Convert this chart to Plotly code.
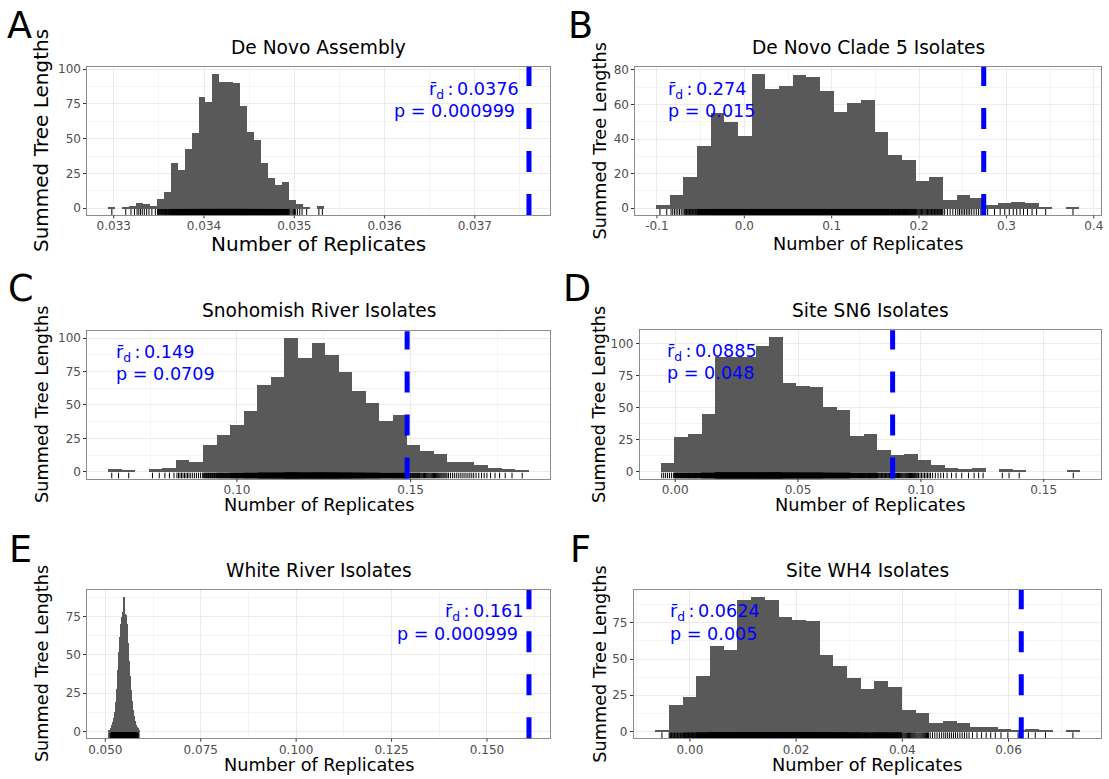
import plotly.graph_objects as go

W, H = 1109, 779

# ---- data -------------------------------------------------------------
panel_letters = ["A", "B", "C", "D", "E", "F"]
panel_titles = [
    "De Novo Assembly",
    "De Novo Clade 5 Isolates",
    "Snohomish River Isolates",
    "Site SN6 Isolates",
    "White River Isolates",
    "Site WH4 Isolates",
]
observed_rd = [0.0376, 0.274, 0.149, 0.0885, 0.161, 0.0624]
p_values = ["0.000999", "0.015", "0.0709", "0.048", "0.000999", "0.005"]

# histogram counts per bin (31 bins each), first bin edge and bin width
counts_a = [1, 0, 1, 2, 4, 3, 2, 7, 12, 33, 28, 43, 54, 80, 77, 97, 91, 91, 90, 74,
            55, 49, 33, 22, 17, 19, 6, 3, 1, 0, 2]
counts_b = [2, 8, 18, 36, 55, 50, 42, 78, 69, 71, 77, 76, 68, 56, 61, 63, 44, 31, 28, 16,
            18, 5, 8, 6, 2, 3, 4, 3, 1, 0, 1]
counts_c = [2, 1, 0, 2, 3, 9, 7, 20, 27, 35, 45, 65, 71, 100, 85, 96, 87, 74, 60, 51,
            38, 42, 20, 15, 13, 7, 7, 5, 3, 2, 1]
counts_d = [7, 27, 29, 45, 89, 89, 89, 98, 105, 69, 67, 66, 50, 48, 28, 29, 17, 13, 14, 9,
            5, 3, 2, 3, 0, 2, 1, 0, 0, 0, 1]
counts_e = [1, 1, 2, 4, 6, 9, 13, 19, 28, 40, 52, 62, 70, 75, 78, 88, 77, 76, 70, 58,
            46, 36, 27, 20, 14, 10, 7, 4, 3, 2, 1]
counts_f = [1, 18, 24, 38, 59, 56, 91, 93, 91, 79, 77, 76, 53, 45, 37, 29, 35, 31, 15, 13,
            6, 7, 6, 3, 3, 2, 1, 2, 1, 0, 1]
all_counts = [counts_a, counts_b, counts_c, counts_d, counts_e, counts_f]

bin_starts = [0.03294, -0.1005, 0.06297, -0.00584, 0.0508, -0.00656]
bin_widths = [0.0000771, 0.01563, 0.003907, 0.005504, 0.000263, 0.00258]

x_tick_vals = [
    [0.033, 0.034, 0.035, 0.036, 0.037],
    [-0.1, 0.0, 0.1, 0.2, 0.3, 0.4],
    [0.10, 0.15],
    [0.00, 0.05, 0.10, 0.15],
    [0.050, 0.075, 0.100, 0.125, 0.150],
    [0.00, 0.02, 0.04, 0.06],
]
x_tick_text = [
    ["0.033", "0.034", "0.035", "0.036", "0.037"],
    ["-0.1", "0.0", "0.1", "0.2", "0.3", "0.4"],
    ["0.10", "0.15"],
    ["0.00", "0.05", "0.10", "0.15"],
    ["0.050", "0.075", "0.100", "0.125", "0.150"],
    ["0.00", "0.02", "0.04", "0.06"],
]
y_tick_vals = [
    [0, 25, 50, 75, 100],
    [0, 20, 40, 60, 80],
    [0, 25, 50, 75, 100],
    [0, 25, 50, 75, 100],
    [0, 25, 50, 75],
    [0, 25, 50, 75],
]

# ---- layout geometry (pixels) ----------------------------------------
# plot-area boxes: left, right, top, bottom
boxes = [
    (87.5, 551, 63, 212),
    (636.5, 1103, 63, 212),
    (87.5, 551, 329, 477),
    (641, 1103, 328, 477),
    (87.5, 551, 589, 738),
    (635, 1103, 589, 738),
]
letter_pos = [(20, 22), (582, 22), (21, 285.5), (578, 285.5), (21, 548), (582, 548)]
title_y = [44, 44, 308.5, 308.5, 569.5, 569.5]
xtitle_y = [241, 241, 504, 504, 765, 765]
ytitle_x = [41.3, 600.7, 42.1, 600.7, 42.1, 600.7]
axis_title_size = [20, 17.7, 17.7, 17.7, 17.7, 17.7]
# stat label placement: anchor x, side, line-1 y, line-2 y
label_pos = [
    ((521.5, 517.5), "right", 87, 108),
    ((667.4, 667.4), "left", 87, 108),
    ((113.8, 114.5), "left", 351, 371.5),
    ((666.7, 666.7), "left", 350.5, 371),
    ((525.5, 521), "right", 611.5, 633),
    ((668.8, 668.8), "left", 611.5, 633),
]
TICK_LEN = 3

FONT = "DejaVu Sans"
BAR_FILL = "#595959"
BLUE = "#0000FF"
TICK_COLOR = "#333333"


def px(x):
    return x / W


def py(y):
    return 1 - y / H


def minor_ticks(major, lo, hi):
    step = major[1] - major[0] if len(major) > 1 else (hi - lo)
    vals = [major[0] - step / 2] + [m + step / 2 for m in major]
    return [v for v in vals if lo <= v <= hi]


fig = go.Figure()
layout = dict(
    width=W,
    height=H,
    margin=dict(l=0, r=0, t=0, b=0),
    paper_bgcolor="white",
    plot_bgcolor="white",
    showlegend=False,
    bargap=0,
    font=dict(family=FONT, color="black"),
    annotations=[],
    shapes=[],
)

for i in range(6):
    n = i + 1
    suffix = "" if n == 1 else str(n)
    xa, ya = "x" + suffix, "y" + suffix
    counts = all_counts[i]
    start, width = bin_starts[i], bin_widths[i]
    nb = len(counts)
    centers = [start + width * (k + 0.5) for k in range(nb)]
    end = start + width * nb

    # x range: bars plus the observed value, padded 5% each side
    lo = min(start, observed_rd[i])
    hi = max(end, observed_rd[i])
    pad = 0.05 * (hi - lo)
    xr = [lo - pad, hi + pad]
    ymax = max(counts)
    yr = [-0.05 * ymax, 1.05 * ymax]

    fig.add_trace(go.Bar(
        x=centers, y=counts, width=[width] * nb,
        marker=dict(color=BAR_FILL, line=dict(width=0)),
        xaxis=xa, yaxis=ya, hoverinfo="skip",
    ))

    # rug: one short tick per replicate, spread across its bin
    rx, ry = [], []
    y0 = yr[0]
    y1 = yr[0] + 0.04 * (yr[1] - yr[0])
    for k, c in enumerate(counts):
        for j in range(c):
            xv = start + width * (k + (j + 0.5) / c)
            rx += [xv, xv, None]
            ry += [y0, y1, None]
    fig.add_trace(go.Scatter(
        x=rx, y=ry, mode="lines", line=dict(color="black", width=1),
        xaxis=xa, yaxis=ya, hoverinfo="skip",
    ))

    l, r, t, b = boxes[i]
    axis_common = dict(
        tickfont=dict(family=FONT, size=12, color="#4D4D4D"),
        showgrid=True, gridcolor="#EBEBEB", gridwidth=1.1,
        showline=True, mirror=True, linecolor="#8C8C8C", linewidth=1,
        zeroline=False, fixedrange=True,
    )
    # x tick marks are drawn as short shapes below the frame so the labels sit tight
    layout["xaxis" + suffix] = dict(
        domain=[px(l), px(r)], anchor=ya, range=xr, ticks="",
        tickmode="array", tickvals=x_tick_vals[i], ticktext=x_tick_text[i],
        minor=dict(tickmode="array", tickvals=minor_ticks(x_tick_vals[i], xr[0], xr[1]),
                   showgrid=True, gridcolor="#F4F4F4", gridwidth=0.6, ticks=""),
        **axis_common,
    )
    layout["yaxis" + suffix] = dict(
        domain=[py(b), py(t)], anchor=xa, range=yr,
        ticks="outside", ticklen=TICK_LEN, tickwidth=1, tickcolor=TICK_COLOR,
        tickmode="array", tickvals=y_tick_vals[i],
        ticktext=[str(v) for v in y_tick_vals[i]],
        minor=dict(tickmode="array", tickvals=minor_ticks(y_tick_vals[i], yr[0], yr[1]),
                   showgrid=True, gridcolor="#F4F4F4", gridwidth=0.6, ticks=""),
        **axis_common,
    )
    for tv in x_tick_vals[i]:
        layout["shapes"].append(dict(
            type="line", xref=xa, yref="paper", x0=tv, x1=tv,
            y0=py(b + 0.5), y1=py(b + 0.5 + TICK_LEN),
            line=dict(color=TICK_COLOR, width=1),
        ))

    # observed value as a dashed vertical line
    layout["shapes"].append(dict(
        type="line", xref=xa, yref=ya + " domain",
        x0=observed_rd[i], x1=observed_rd[i], y0=0, y1=1,
        line=dict(color=BLUE, width=5, dash="21px,22px"),
    ))

    cx = (l + r) / 2
    ann = layout["annotations"]
    # panel letter
    lx, ly = letter_pos[i]
    ann.append(dict(text=panel_letters[i], x=px(lx), y=py(ly), xref="paper", yref="paper",
                    xanchor="center", yanchor="middle", showarrow=False,
                    font=dict(family=FONT, size=36.6, color="black")))
    # panel title
    ann.append(dict(text=panel_titles[i], x=px(cx), y=py(title_y[i]), xref="paper", yref="paper",
                    xanchor="center", yanchor="middle", showarrow=False,
                    font=dict(family=FONT, size=18.6, color="black")))
    # axis titles
    ann.append(dict(text="Number of Replicates", x=px(cx), y=py(xtitle_y[i]),
                    xref="paper", yref="paper", xanchor="center", yanchor="middle",
                    showarrow=False,
                    font=dict(family=FONT, size=axis_title_size[i], color="black")))
    ann.append(dict(text="Summed Tree Lengths", x=px(ytitle_x[i]), y=py((t + b) / 2),
                    xref="paper", yref="paper", xanchor="center", yanchor="middle",
                    textangle=-90, showarrow=False,
                    font=dict(family=FONT, size=axis_title_size[i], color="black")))
    # statistic labels
    (ax1, ax2), side, ly1, ly2 = label_pos[i]
    line1 = f"r\u0304<sub>d</sub>\u2009:\u2009{observed_rd[i]:g}"
    line2 = f"p = {p_values[i]}"
    for txt, ax_, ay_ in ((line1, ax1, ly1), (line2, ax2, ly2)):
        ann.append(dict(text=txt, x=px(ax_), y=py(ay_), xref="paper", yref="paper",
                        xanchor=side, yanchor="middle", align=side, showarrow=False,
                        font=dict(family=FONT, size=17.6, color=BLUE)))

fig.update_layout(**layout)
fig.write_html("out.html")
